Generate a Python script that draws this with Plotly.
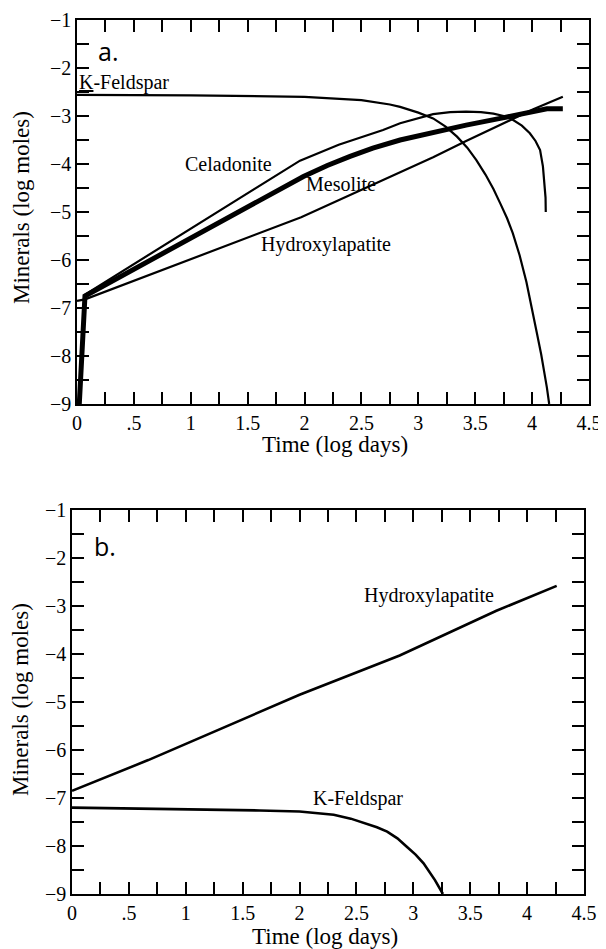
import plotly.graph_objects as go

# ---------------- data ----------------
# Panel a
a_kfeld_x = [0, 1.0, 2.0, 2.25, 2.5, 2.75, 2.84, 3.0, 3.13, 3.24, 3.34, 3.43, 3.51, 3.59,
             3.66, 3.72, 3.78, 3.83, 3.89, 3.95, 4.0, 4.04, 4.08, 4.11, 4.13, 4.15]
a_kfeld_y = [-2.56, -2.57, -2.6, -2.63, -2.67, -2.76, -2.81, -2.93, -3.05, -3.22, -3.43, -3.66,
             -3.92, -4.22, -4.52, -4.82, -5.13, -5.44, -5.9, -6.46, -7.0, -7.5, -7.97, -8.36,
             -8.66, -9.0]

a_celad_x = [0.07, 1.96, 2.3, 2.69, 2.84, 3.0, 3.13, 3.28, 3.42, 3.55, 3.66, 3.75, 3.83, 3.91,
             3.98, 4.03, 4.07, 4.095, 4.11, 4.118, 4.12]
a_celad_y = [-6.72, -3.93, -3.6, -3.29, -3.15, -3.04, -2.96, -2.92, -2.91, -2.92, -2.95, -3.0,
             -3.08, -3.2, -3.36, -3.52, -3.71, -4.05, -4.4, -4.7, -5.0]

a_meso_x = [0.02, 0.07, 1.99, 2.2, 2.4, 2.6, 2.84, 3.0, 3.13, 3.42, 3.72, 4.01, 4.13, 4.27]
a_meso_y = [-9.0, -6.75, -4.26, -4.03, -3.84, -3.67, -3.5, -3.41, -3.33, -3.19, -3.05, -2.91,
            -2.85, -2.85]

a_hydro_x = [0, 0.07, 1.97, 2.84, 3.13, 3.42, 3.72, 4.01, 4.27]
a_hydro_y = [-6.85, -6.82, -5.11, -4.17, -3.86, -3.52, -3.18, -2.86, -2.60]

# Panel b
b_hydro_x = [0, 0.67, 2.0, 2.88, 3.73, 4.26]
b_hydro_y = [-6.85, -6.21, -4.85, -4.03, -3.1, -2.58]

b_kfeld_x = [0, 1.0, 1.65, 2.0, 2.3, 2.45, 2.59, 2.68, 2.77, 2.86, 2.94, 3.02, 3.09, 3.19, 3.26]
b_kfeld_y = [-7.2, -7.23, -7.26, -7.28, -7.35, -7.43, -7.53, -7.61, -7.70, -7.84, -8.01, -8.18,
             -8.36, -8.71, -9.0]

# ticks
x_tick_vals = [i * 0.25 for i in range(19)]
x_tick_labels = ["0", "", ".5", "", "1", "", "1.5", "", "2", "", "2.5", "", "3", "", "3.5", "",
                 "4", "", "4.5"]
y_tick_vals = [-9 + i * 0.5 for i in range(17)]
y_tick_labels = ["\u22129", "", "\u22128", "", "\u22127", "", "\u22126", "", "\u22125", "",
                 "\u22124", "", "\u22123", "", "\u22122", "", "\u22121"]

x_title = "Time (log days)"
y_title = "Minerals (log moles)"

# ---------------- figure ----------------
SERIF = "Liberation Serif, Times New Roman, serif"
W, H = 606, 949
OFF = 8  # page body margin


def px_x(p):
    return (p - OFF) / W


def px_y(p):
    return 1 - (p - OFF) / H


fig = go.Figure()


def line(x, y, xa, ya, width):
    fig.add_trace(go.Scatter(x=x, y=y, mode="lines", xaxis=xa, yaxis=ya,
                             line=dict(color="black", width=width), showlegend=False,
                             hoverinfo="skip"))


line(a_kfeld_x, a_kfeld_y, "x", "y", 2.2)
line(a_celad_x, a_celad_y, "x", "y", 2.2)
line(a_hydro_x, a_hydro_y, "x", "y", 2.2)
line(a_meso_x, a_meso_y, "x", "y", 5)
line(b_hydro_x, b_hydro_y, "x2", "y2", 2.6)
line(b_kfeld_x, b_kfeld_y, "x2", "y2", 2.6)

axis_common = dict(showgrid=False, zeroline=False, showline=True, linecolor="black",
                   linewidth=1.5, mirror="ticks", ticks="inside", ticklen=12, tickwidth=1.5,
                   tickcolor="black", automargin=False,
                   tickfont=dict(family=SERIF, size=20, color="black"))

fig.update_layout(
    width=W, height=H,
    font=dict(family=SERIF, color="black"),
    margin=dict(l=0, r=0, t=0, b=0, autoexpand=False),
    paper_bgcolor="white", plot_bgcolor="white",
    xaxis=dict(domain=[px_x(77), px_x(589)], range=[0, 4.5], anchor="y",
               tickvals=x_tick_vals, ticktext=x_tick_labels, **axis_common),
    yaxis=dict(domain=[px_y(404), px_y(20)], range=[-9, -1], anchor="x",
               tickvals=y_tick_vals, ticktext=y_tick_labels, **axis_common),
    xaxis2=dict(domain=[px_x(72), px_x(584)], range=[0, 4.5], anchor="y2",
                tickvals=x_tick_vals, ticktext=x_tick_labels, **axis_common),
    yaxis2=dict(domain=[px_y(894), px_y(510)], range=[-9, -1], anchor="x2",
                tickvals=y_tick_vals, ticktext=y_tick_labels, **axis_common),
)

lab = dict(family=SERIF, size=20, color="black")
annos = [
    dict(x=0, y=-2.31, xref="x", yref="y", text="<u>K</u>-Feldspar", xanchor="left"),
    dict(x=1.33, y=-3.99, xref="x", yref="y", text="Celadonite"),
    dict(x=2.32, y=-4.41, xref="x", yref="y", text="Mesolite"),
    dict(x=2.19, y=-5.68, xref="x", yref="y", text="Hydroxylapatite"),
    dict(x=3.14, y=-2.79, xref="x2", yref="y2", text="Hydroxylapatite"),
    dict(x=2.51, y=-7.01, xref="x2", yref="y2", text="K-Feldspar"),
]
for a in annos:
    fig.add_annotation(showarrow=False, font=lab, yanchor="middle", **a)

sans = dict(family="Open Sans", size=25, color="black")
fig.add_annotation(x=0.17, y=-1.64, xref="x", yref="y", text="a.", showarrow=False,
                   xanchor="left", yanchor="middle", font=sans)
fig.add_annotation(x=0.18, y=-1.76, xref="x2", yref="y2", text="b.", showarrow=False,
                   xanchor="left", yanchor="middle", font=sans)

title_font = dict(family=SERIF, size=23, color="black")
for cx, cy in [(335, 445), (325, 936)]:
    fig.add_annotation(x=px_x(cx), y=px_y(cy), xref="paper", yref="paper", text=x_title,
                       showarrow=False, font=title_font, xanchor="center", yanchor="middle")
for cx, cy in [(22, 208), (20, 700)]:
    fig.add_annotation(x=px_x(cx), y=px_y(cy), xref="paper", yref="paper", text=y_title,
                       showarrow=False, font=title_font, textangle=-90,
                       xanchor="center", yanchor="middle")

fig.write_html("out.html")
